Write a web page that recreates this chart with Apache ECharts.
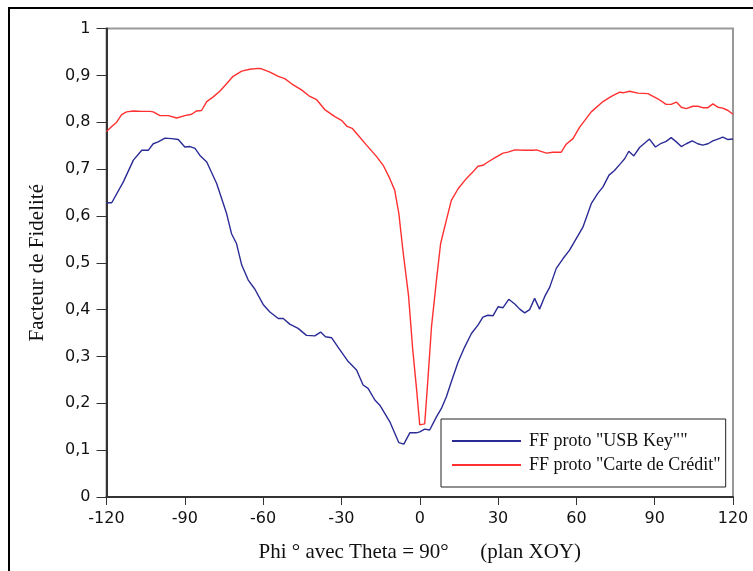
<!DOCTYPE html>
<html>
<head>
<meta charset="utf-8">
<script src="https://cdn.jsdelivr.net/npm/echarts@6/dist/echarts.min.js"></script>
<style>
  html, body { margin: 0; padding: 0; background: #fff; }
  #chart { width: 753px; height: 571px; }
</style>
</head>
<body>
<div id="chart"></div>
<script>
/* Facteur de fidelite vs Phi, two prototypes. */
const xTicks = [-120, -90, -60, -30, 0, 30, 60, 90, 120];

const usbPhi = [-120, -118, -113.6, -109.7, -106.5, -104, -102.1, -100.2, -97.6, -95, -92.5, -90, -88, -86.1, -84.2, -81.6,
  -77.8, -74, -72.1, -70.2, -68.2, -65.7, -63.2, -60, -57.4, -54.2, -52.3, -49.8, -46.6, -43.4, -40.2, -38, -36.1, -33.8,
  -31.3, -27.4, -24.2, -21.7, -19.8, -17.2, -15.3, -11.5, -8, -6.1, -3.8, -1.3, 0, 1.9, 3.8, 6.4, 8.3, 10.2, 12.1, 14.7,
  17.2, 19.8, 22.3, 24.2, 26.1, 28.1, 30, 31.9, 34.1, 36.4, 38.3, 40.2, 42.1, 44, 45.9, 47.8, 49.8, 52.3, 54.9, 57.4, 60,
  62.5, 65.7, 68.2, 70.2, 72.5, 74.6, 76.8, 78.5, 80.1, 82, 84.2, 86.1, 88, 90.3, 92.5, 94.4, 96.3, 98.3, 100.2, 102.1,
  104.4, 106.5, 108.4, 110.4, 112.3, 114.2, 116.1, 118.1, 120];
const usbFF = [0.628, 0.628, 0.672, 0.719, 0.740, 0.740, 0.754, 0.758, 0.766, 0.765, 0.763, 0.747, 0.748, 0.744, 0.729, 0.715,
  0.669, 0.605, 0.562, 0.541, 0.495, 0.463, 0.444, 0.411, 0.395, 0.381, 0.381, 0.369, 0.360, 0.345, 0.344, 0.352, 0.342, 0.340,
  0.320, 0.289, 0.271, 0.239, 0.232, 0.207, 0.196, 0.161, 0.116, 0.113, 0.137, 0.137, 0.139, 0.145, 0.143, 0.171, 0.189, 0.214, 0.246, 0.288,
  0.320, 0.349, 0.367, 0.384, 0.388, 0.387, 0.406, 0.404, 0.422, 0.412, 0.401, 0.393, 0.400, 0.424, 0.401, 0.427, 0.448, 0.488, 0.509, 0.527, 0.552,
  0.576, 0.626, 0.648, 0.662, 0.687, 0.697, 0.711, 0.722, 0.738, 0.728, 0.746, 0.755, 0.764, 0.747, 0.755, 0.759, 0.767, 0.758, 0.748, 0.754,
  0.760, 0.754, 0.751, 0.754, 0.760, 0.764, 0.768, 0.763, 0.764];

const cartePhi = [-120, -118, -116.1, -114.2, -112.3, -109.7, -106.5, -103.3, -102.1, -99.5, -96.3, -93.1, -90, -87.4, -85.5,
  -83.6, -81.6, -79.1, -76.6, -74, -71.5, -68.2, -65.1, -61.9, -60.6, -57.4, -54.2, -51.7, -49.1, -45.3, -42.1, -39.5, -36.4,
  -32.5, -30, -27.8, -25.9, -23.6, -20.4, -16.6, -14, -11.5, -9.6, -8, -6.4, -4.3, -2.7, -1.3, 0, 1.9, 3.2, 4.5, 6.4, 8, 10.2,
  12.1, 14.7, 17.9, 20.4, 22.3, 24.2, 26.1, 28.7, 31.9, 33.8, 36.4, 40.2, 43.4, 44.7, 48.5, 51, 54.2, 56.1, 58.7, 61.2, 65.7,
  70.2, 73.4, 76.6, 78.2, 80.4, 83.6, 87.4, 91.2, 94.4, 96.3, 98.3, 100.2, 102.1, 104.6, 106.5, 108.4, 110.4, 112.3, 114.2,
  116.1, 118.1, 120];
const carteFF = [0.780, 0.791, 0.800, 0.816, 0.822, 0.824, 0.823, 0.823, 0.822, 0.814, 0.814, 0.809, 0.814, 0.817, 0.824,
  0.825, 0.844, 0.854, 0.866, 0.882, 0.898, 0.909, 0.913, 0.915, 0.914, 0.907, 0.898, 0.893, 0.882, 0.869, 0.855, 0.848, 0.827,
  0.812, 0.804, 0.791, 0.787, 0.772, 0.751, 0.727, 0.708, 0.680, 0.655, 0.605, 0.524, 0.430, 0.315, 0.235, 0.154, 0.156, 0.257, 0.363, 0.463, 0.541, 0.591,
  0.633, 0.658, 0.680, 0.694, 0.706, 0.708, 0.715, 0.724, 0.734, 0.736, 0.741, 0.740, 0.740, 0.741, 0.734, 0.736, 0.736, 0.753, 0.765, 0.789, 0.822,
  0.844, 0.855, 0.864, 0.863, 0.866, 0.862, 0.861, 0.850, 0.838, 0.838, 0.843, 0.832, 0.829, 0.834, 0.834, 0.831, 0.831, 0.839, 0.832,
  0.830, 0.825, 0.817];

function pairs(xs, ys) {
  return xs.map(function (x, i) { return [x, ys[i]]; });
}

const chart = echarts.init(document.getElementById("chart"), null, { renderer: "canvas" });
const sans = "'DejaVu Sans'";
const serif = "'Liberation Serif'";
const ink = "#111";
const blue = "#2b2b96";
const red = "#ff3030";

chart.setOption({
  animation: false,
  backgroundColor: "#fff",
  grid: { left: 106.5, right: 20, top: 28.5, bottom: 74, show: true, borderColor: "#999", borderWidth: 2, containLabel: false },
  graphic: [{
    type: "polyline", silent: true,
    shape: { points: [[9, 640], [9, 8], [800, 8]] },
    style: { fill: null, stroke: "#000", lineWidth: 2 },
  }],
  legend: {
    orient: "vertical", left: 441, top: 419,
    padding: [13, 5, 13, 10],
    itemWidth: 69, itemHeight: 14, itemGap: 6,
    borderColor: "#222", borderWidth: 1,
    itemStyle: { opacity: 0 },
    lineStyle: { width: 2 },
    textStyle: { fontFamily: serif, fontSize: 18, lineHeight: 18, color: ink, padding: [0, 0, 0, 3] },
  },
  xAxis: {
    type: "value", min: -120, max: 120, interval: 30,
    name: "Phi \u00b0 avec Theta = 90\u00b0      (plan XOY)",
    nameLocation: "middle", nameGap: 45,
    nameTextStyle: { fontFamily: serif, fontSize: 21, color: ink },
    axisLine: { onZero: false, lineStyle: { color: "#333", width: 2 } },
    axisTick: { length: 8, lineStyle: { color: "#333" } },
    axisLabel: { fontFamily: sans, fontSize: 16, color: ink, margin: 14, showMinLabel: true, showMaxLabel: true,
      formatter: function (v) { return xTicks.indexOf(v) >= 0 ? String(v) : ""; } },
    splitLine: { show: false },
  },
  yAxis: {
    type: "value", min: 0, max: 1, interval: 0.1,
    name: "Facteur de Fidelit\u00e9",
    nameLocation: "middle", nameGap: 59,
    nameTextStyle: { fontFamily: serif, fontSize: 21, color: ink },
    axisLine: { show: true, onZero: false, lineStyle: { color: "#333", width: 2 } },
    axisTick: { show: true, length: 10, lineStyle: { color: "#333" } },
    axisLabel: { fontFamily: sans, fontSize: 16, color: ink, margin: 16,
      formatter: function (v) { return String(Math.round(v * 10) / 10).replace(".", ","); } },
    splitLine: { show: false },
  },
  series: [
    {
      name: "FF proto \"USB Key\"\"", type: "line", data: pairs(usbPhi, usbFF),
      symbol: "none", lineStyle: { color: blue, width: 1.4 }, itemStyle: { color: blue },
    },
    {
      name: "FF proto \"Carte de Cr\u00e9dit\"", type: "line", data: pairs(cartePhi, carteFF),
      symbol: "none", lineStyle: { color: red, width: 1.4 }, itemStyle: { color: red },
    },
  ],
});
</script>
</body>
</html>
